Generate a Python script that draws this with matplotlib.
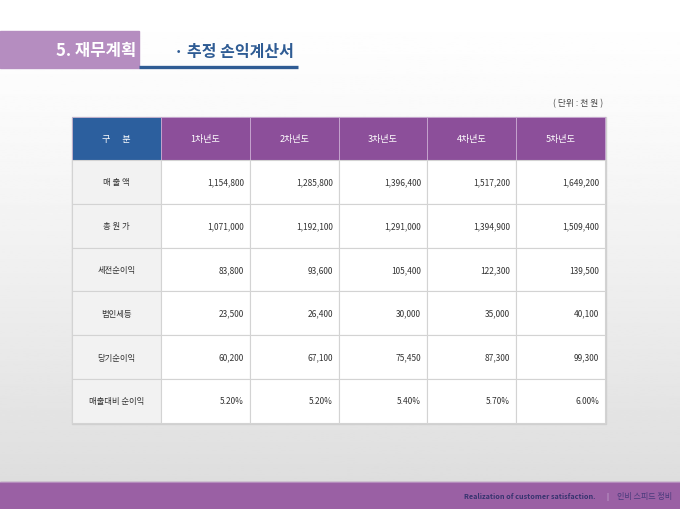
import numpy as np
import matplotlib
matplotlib.use('Agg')
import matplotlib.pyplot as plt
from matplotlib.patches import Rectangle

plt.rcParams['font.family'] = ['Noto Sans CJK KR', 'DejaVu Sans']

# table content
years = ['1차년도', '2차년도', '3차년도', '4차년도', '5차년도']
row_labels = ['매 출 액', '총 원 가', '세전순이익', '법인세등', '당기순이익', '매출대비 순이익']
sales = ['1,154,800', '1,285,800', '1,396,400', '1,517,200', '1,649,200']
total_cost = ['1,071,000', '1,192,100', '1,291,000', '1,394,900', '1,509,400']
pretax = ['83,800', '93,600', '105,400', '122,300', '139,500']
tax = ['23,500', '26,400', '30,000', '35,000', '40,100']
net = ['60,200', '67,100', '75,450', '87,300', '99,300']
margin = ['5.20%', '5.20%', '5.40%', '5.70%', '6.00%']
rows = [sales, total_cost, pretax, tax, net, margin]

W, H = 680, 510
fig = plt.figure(figsize=(6.8, 5.1), dpi=100)
ax = fig.add_axes([0, 0, 1, 1])
ax.set_xlim(0, W)
ax.set_ylim(H, 0)
ax.axis('off')

# background gradient
grad = np.linspace(0, 1, 256) ** 1.3
bg = 1.0 - 0.14 * grad
ax.imshow(bg[:, None], extent=[0, W, H, 0], cmap='gray', vmin=0, vmax=1,
          aspect='auto', zorder=0)

# title block
ax.add_patch(Rectangle((0, 32), 139, 37, color='#b58dc0', zorder=1))
ax.text(136, 51, '5. 재무계획', color='white', fontsize=12, fontweight='bold',
        ha='right', va='center', zorder=2)
ax.plot([139, 298], [67.5, 67.5], color='#2f5c94', lw=2.4, zorder=2,
        solid_capstyle='butt')
ax.text(174, 52, '· 추정 손익계산서', color='#2f5c94', fontsize=11.5,
        fontweight='bold', ha='left', va='center', zorder=2)

ax.text(603, 104, '( 단위 : 천 원 )', color='#444444', fontsize=6.3,
        ha='right', va='center')

# table geometry
x_edges = [72, 161, 250, 339, 427, 516, 605]
top, head_h, row_h = 118, 43, 43.8
grid = '#d3d3d3'

# shadow
ax.add_patch(Rectangle((x_edges[0] - 0.5, top), x_edges[-1] - x_edges[0] + 1,
                       head_h + row_h * len(rows) + 1, color='#d0d0d0',
                       zorder=1))

# header
ax.add_patch(Rectangle((x_edges[0], top), x_edges[1] - x_edges[0], head_h,
                       facecolor='#2c5f9e', edgecolor='#c9b4d0', lw=0.6,
                       zorder=2))
ax.text((x_edges[0] + x_edges[1]) / 2, top + head_h / 2, '구      분',
        color='white', fontsize=6.5, ha='center', va='center', zorder=3)
for j, yr in enumerate(years):
    x0, x1 = x_edges[j + 1], x_edges[j + 2]
    ax.add_patch(Rectangle((x0, top), x1 - x0, head_h, facecolor='#8c4f9a',
                           edgecolor='#c9a9d2', lw=0.6, zorder=2))
    ax.text((x0 + x1) / 2, top + head_h / 2, yr, color='white', fontsize=6.5,
            ha='center', va='center', zorder=3)

# body
for i, (label, vals) in enumerate(zip(row_labels, rows)):
    y0 = top + head_h + i * row_h
    ax.add_patch(Rectangle((x_edges[0], y0), x_edges[1] - x_edges[0], row_h,
                           facecolor='#f2f2f2', edgecolor=grid, lw=0.8,
                           zorder=2))
    ax.text((x_edges[0] + x_edges[1]) / 2, y0 + row_h / 2, label,
            color='#333333', fontsize=6, ha='center', va='center', zorder=3)
    for j, v in enumerate(vals):
        x0, x1 = x_edges[j + 1], x_edges[j + 2]
        ax.add_patch(Rectangle((x0, y0), x1 - x0, row_h, facecolor='white',
                               edgecolor=grid, lw=0.8, zorder=2))
        ax.text(x1 - 6, y0 + row_h / 2, v, color='#333333', fontsize=6,
                ha='right', va='center', zorder=3)

# footer band
ax.add_patch(Rectangle((0, 483), W, H - 483, color='#9a60a4', zorder=1))
ax.plot([0, W], [483, 483], color='#b58cbd', lw=0.8, zorder=2)
ax.text(596, 497, 'Realization of customer satisfaction.', color='#35336e',
        fontsize=5.2, fontweight='bold', ha='right', va='center', zorder=3)
ax.text(607, 497, '|', color='#d9c6e0', fontsize=5.5, ha='center',
        va='center', zorder=3)
ax.text(672, 497, '인비 스피드 정비', color='#4a3b7c', fontsize=5.8,
        ha='right', va='center', zorder=3)

fig.savefig('out.png', dpi=100)
